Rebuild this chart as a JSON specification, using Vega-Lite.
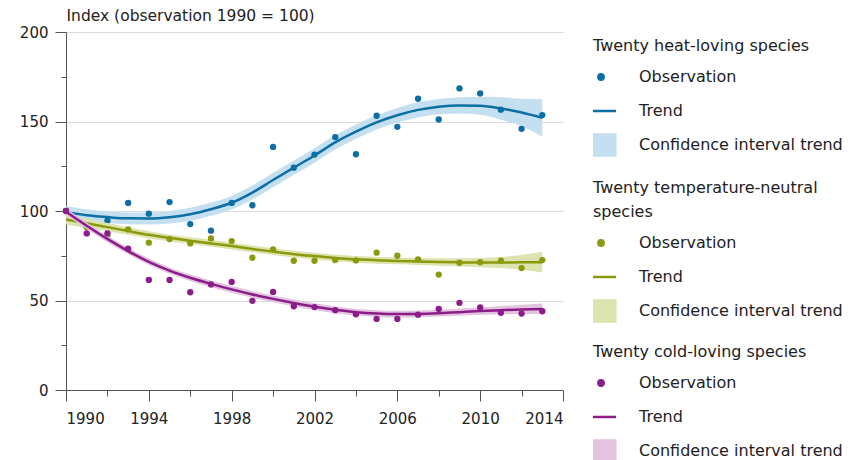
{
  "$schema": "https://vega.github.io/schema/vega-lite/v6.json",
  "width": 497,
  "height": 358,
  "autosize": {"type": "none"},
  "padding": {"left": 66, "top": 32, "right": 296, "bottom": 70},
  "background": "white",
  "config": {
    "view": {"stroke": null},
    "font": "DejaVu Sans",
    "axis": {"labelFont": "DejaVu Sans", "titleFont": "DejaVu Sans", "labelColor": "#222", "titleColor": "#222", "domainColor": "#555", "tickColor": "#555", "gridColor": "#dcdcdc"},
    "legend": {"labelFont": "DejaVu Sans", "titleFont": "DejaVu Sans", "labelFontSize": 16, "titleFontSize": 16, "titleFontWeight": "normal", "labelColor": "#222", "titleColor": "#222", "padding": 0, "symbolSize": 900, "clipHeight": 30, "labelOffset": 16, "rowPadding": 4, "titlePadding": 8, "titleLineHeight": 24, "labelLimit": 400, "titleLimit": 400}
  },
  "data": {"values": [
    {"g": "heat", "year": 1990, "obs": 100, "trend": 99.5, "lo": 96, "hi": 103},
    {"g": "heat", "year": 1991, "obs": 91, "trend": 97.6, "lo": 94.3, "hi": 100.9},
    {"g": "heat", "year": 1992, "obs": 94.6, "trend": 96.6, "lo": 93.3, "hi": 99.9},
    {"g": "heat", "year": 1993, "obs": 104.5, "trend": 95.9, "lo": 92.6, "hi": 99.2},
    {"g": "heat", "year": 1994, "obs": 98.5, "trend": 95.8, "lo": 92.4, "hi": 99.2},
    {"g": "heat", "year": 1995, "obs": 105, "trend": 96.5, "lo": 93, "hi": 100},
    {"g": "heat", "year": 1996, "obs": 92.7, "trend": 98.2, "lo": 94.6, "hi": 101.8},
    {"g": "heat", "year": 1997, "obs": 89, "trend": 101, "lo": 97.3, "hi": 104.7},
    {"g": "heat", "year": 1998, "obs": 104.5, "trend": 104.6, "lo": 100.8, "hi": 108.4},
    {"g": "heat", "year": 1999, "obs": 103.2, "trend": 110.3, "lo": 106.4, "hi": 114.2},
    {"g": "heat", "year": 2000, "obs": 135.8, "trend": 117.3, "lo": 113.3, "hi": 121.3},
    {"g": "heat", "year": 2001, "obs": 124.2, "trend": 124.2, "lo": 120.2, "hi": 128.2},
    {"g": "heat", "year": 2002, "obs": 131.5, "trend": 131, "lo": 127, "hi": 135},
    {"g": "heat", "year": 2003, "obs": 141.3, "trend": 138.3, "lo": 134.3, "hi": 142.3},
    {"g": "heat", "year": 2004, "obs": 131.7, "trend": 144.3, "lo": 140.3, "hi": 148.3},
    {"g": "heat", "year": 2005, "obs": 153.2, "trend": 149.5, "lo": 145.5, "hi": 153.5},
    {"g": "heat", "year": 2006, "obs": 147, "trend": 153.5, "lo": 149.4, "hi": 157.6},
    {"g": "heat", "year": 2007, "obs": 162.7, "trend": 156.5, "lo": 152.3, "hi": 160.7},
    {"g": "heat", "year": 2008, "obs": 151.1, "trend": 158.3, "lo": 154, "hi": 162.6},
    {"g": "heat", "year": 2009, "obs": 168.5, "trend": 159, "lo": 154.5, "hi": 163.5},
    {"g": "heat", "year": 2010, "obs": 165.7, "trend": 158.8, "lo": 153.8, "hi": 163.8},
    {"g": "heat", "year": 2011, "obs": 156.6, "trend": 157.3, "lo": 151, "hi": 163.6},
    {"g": "heat", "year": 2012, "obs": 145.9, "trend": 155, "lo": 147.3, "hi": 162.7},
    {"g": "heat", "year": 2013, "obs": 153.6, "trend": 152, "lo": 141.5, "hi": 162.5},
    {"g": "neutral", "year": 1990, "obs": 100, "trend": 95.3, "lo": 92.5, "hi": 98.1},
    {"g": "neutral", "year": 1991, "obs": 91, "trend": 93.1, "lo": 90.6, "hi": 95.6},
    {"g": "neutral", "year": 1992, "obs": 86, "trend": 91, "lo": 88.7, "hi": 93.3},
    {"g": "neutral", "year": 1993, "obs": 89.7, "trend": 88.8, "lo": 86.7, "hi": 90.9},
    {"g": "neutral", "year": 1994, "obs": 82.3, "trend": 86.7, "lo": 84.7, "hi": 88.7},
    {"g": "neutral", "year": 1995, "obs": 84.3, "trend": 85, "lo": 83.1, "hi": 86.9},
    {"g": "neutral", "year": 1996, "obs": 81.9, "trend": 83.4, "lo": 81.5, "hi": 85.3},
    {"g": "neutral", "year": 1997, "obs": 84.7, "trend": 81.9, "lo": 80, "hi": 83.8},
    {"g": "neutral", "year": 1998, "obs": 83.2, "trend": 80.4, "lo": 78.5, "hi": 82.3},
    {"g": "neutral", "year": 1999, "obs": 73.9, "trend": 78.8, "lo": 76.9, "hi": 80.7},
    {"g": "neutral", "year": 2000, "obs": 78.6, "trend": 77.3, "lo": 75.4, "hi": 79.2},
    {"g": "neutral", "year": 2001, "obs": 72.2, "trend": 75.9, "lo": 74, "hi": 77.8},
    {"g": "neutral", "year": 2002, "obs": 72.2, "trend": 74.8, "lo": 72.9, "hi": 76.7},
    {"g": "neutral", "year": 2003, "obs": 72.6, "trend": 73.8, "lo": 71.9, "hi": 75.7},
    {"g": "neutral", "year": 2004, "obs": 72.4, "trend": 73, "lo": 71.1, "hi": 74.9},
    {"g": "neutral", "year": 2005, "obs": 76.7, "trend": 72.5, "lo": 70.6, "hi": 74.4},
    {"g": "neutral", "year": 2006, "obs": 75, "trend": 72.1, "lo": 70.2, "hi": 74},
    {"g": "neutral", "year": 2007, "obs": 73, "trend": 71.8, "lo": 69.8, "hi": 73.8},
    {"g": "neutral", "year": 2008, "obs": 64.5, "trend": 71.5, "lo": 69.4, "hi": 73.6},
    {"g": "neutral", "year": 2009, "obs": 71.1, "trend": 71.3, "lo": 69, "hi": 73.6},
    {"g": "neutral", "year": 2010, "obs": 71.4, "trend": 71.2, "lo": 68.6, "hi": 73.8},
    {"g": "neutral", "year": 2011, "obs": 72.2, "trend": 71.2, "lo": 68.1, "hi": 74.3},
    {"g": "neutral", "year": 2012, "obs": 68.1, "trend": 71.3, "lo": 67.2, "hi": 75.4},
    {"g": "neutral", "year": 2013, "obs": 72.6, "trend": 71.4, "lo": 65.6, "hi": 77.2},
    {"g": "cold", "year": 1990, "obs": 100, "trend": 99.6, "lo": 97.8, "hi": 101.4},
    {"g": "cold", "year": 1991, "obs": 87.5, "trend": 91.8, "lo": 90, "hi": 93.6},
    {"g": "cold", "year": 1992, "obs": 87.5, "trend": 84.4, "lo": 82.6, "hi": 86.2},
    {"g": "cold", "year": 1993, "obs": 78.9, "trend": 77.6, "lo": 75.8, "hi": 79.4},
    {"g": "cold", "year": 1994, "obs": 61.5, "trend": 71.6, "lo": 69.8, "hi": 73.4},
    {"g": "cold", "year": 1995, "obs": 61.5, "trend": 66.7, "lo": 64.9, "hi": 68.5},
    {"g": "cold", "year": 1996, "obs": 54.6, "trend": 62.7, "lo": 60.9, "hi": 64.5},
    {"g": "cold", "year": 1997, "obs": 59, "trend": 59.3, "lo": 57.4, "hi": 61.2},
    {"g": "cold", "year": 1998, "obs": 60.4, "trend": 56.2, "lo": 54.3, "hi": 58.1},
    {"g": "cold", "year": 1999, "obs": 49.8, "trend": 53.4, "lo": 51.5, "hi": 55.3},
    {"g": "cold", "year": 2000, "obs": 54.8, "trend": 50.9, "lo": 49, "hi": 52.8},
    {"g": "cold", "year": 2001, "obs": 46.8, "trend": 48.6, "lo": 46.7, "hi": 50.5},
    {"g": "cold", "year": 2002, "obs": 46.3, "trend": 46.5, "lo": 44.6, "hi": 48.4},
    {"g": "cold", "year": 2003, "obs": 44.6, "trend": 44.8, "lo": 42.9, "hi": 46.7},
    {"g": "cold", "year": 2004, "obs": 42.3, "trend": 43.5, "lo": 41.6, "hi": 45.4},
    {"g": "cold", "year": 2005, "obs": 39.7, "trend": 42.7, "lo": 40.8, "hi": 44.6},
    {"g": "cold", "year": 2006, "obs": 39.7, "trend": 42.4, "lo": 40.5, "hi": 44.3},
    {"g": "cold", "year": 2007, "obs": 42.1, "trend": 42.5, "lo": 40.6, "hi": 44.4},
    {"g": "cold", "year": 2008, "obs": 45.3, "trend": 42.9, "lo": 41, "hi": 44.8},
    {"g": "cold", "year": 2009, "obs": 48.7, "trend": 43.5, "lo": 41.5, "hi": 45.5},
    {"g": "cold", "year": 2010, "obs": 46.1, "trend": 44.1, "lo": 42, "hi": 46.2},
    {"g": "cold", "year": 2011, "obs": 43.1, "trend": 44.6, "lo": 42.3, "hi": 46.9},
    {"g": "cold", "year": 2012, "obs": 42.7, "trend": 45, "lo": 42.4, "hi": 47.6},
    {"g": "cold", "year": 2013, "obs": 44, "trend": 45.3, "lo": 42.3, "hi": 48.3}
  ]},
  "resolve": {"scale": {"color": "independent"}, "axis": {"x": "independent", "y": "independent"}, "legend": {"color": "independent"}},
  "layer": [
    {
      "transform": [{"filter": "datum.g === 'heat'"}],
      "encoding": {
        "x": {"field": "year", "type": "quantitative", "scale": {"domain": [1990, 2014], "nice": false}, "axis": {"orient": "bottom", "values": [1990, 1994, 1998, 2002, 2006, 2010, 2014], "format": "d", "tickSize": 11, "labelPadding": 10, "labelFontSize": 15, "grid": false, "title": null}}
      },
      "layer": [
        {"mark": {"type": "area", "interpolate": "monotone"},
         "encoding": {
           "y": {"field": "lo", "type": "quantitative", "scale": {"domain": [0, 200], "nice": false}, "axis": {"orient": "left", "values": [0, 50, 100, 150, 200], "tickSize": 11, "labelPadding": 7, "labelFontSize": 15, "grid": true, "title": "Index (observation 1990 = 100)", "titleAngle": 0, "titleX": 0, "titleY": -12, "titleAlign": "left", "titleBaseline": "alphabetic", "titleFontSize": 15.5, "titleFontWeight": "normal"}},
           "y2": {"field": "hi"},
           "color": {"datum": "Confidence interval trend", "type": "nominal", "scale": {"domain": ["Observation", "Trend", "Confidence interval trend"], "range": ["#0b6ea4", "#0b6ea4", "#c4dff0"]},
             "legend": {"title": "Twenty heat-loving species", "orient": "none", "legendX": 527, "legendY": 6, "symbolSize": 900, "clipHeight": 30, "labelOffset": 16,
               "encode": {"labels": {"update": {"dx": {"value": 14}}}, "symbols": {"update": {
                 "shape": {"signal": "datum.value === 'Observation' ? 'M0,-0.22A0.22,0.22 0 1,1 0,0.22A0.22,0.22 0 1,1 0,-0.22Z' : datum.value === 'Trend' ? 'M-1,0H1' : 'M-1,-0.75H1V0.75H-1Z'"},
                 "size": {"value": 900},
                 "fill": {"signal": "datum.value === 'Observation' ? '#0b6ea4' : datum.value === 'Trend' ? 'transparent' : '#c4dff0'"},
                 "stroke": {"signal": "datum.value === 'Observation' ? 'transparent' : datum.value === 'Trend' ? '#0b6ea4' : '#7a7a7a'"},
                 "strokeWidth": {"signal": "datum.value === 'Trend' ? 2.5 : 1.2"},
                 "opacity": {"value": 1}}}}}}
         }},
        {"mark": {"type": "line", "interpolate": "monotone", "strokeWidth": 2.5},
         "encoding": {
           "y": {"field": "trend", "type": "quantitative", "axis": {"orient": "left", "values": [0, 50, 100, 150, 200], "tickSize": 11, "labelPadding": 7, "labelFontSize": 15, "grid": true, "title": "Index (observation 1990 = 100)", "titleAngle": 0, "titleX": 0, "titleY": -12, "titleAlign": "left", "titleBaseline": "alphabetic", "titleFontSize": 15.5, "titleFontWeight": "normal"}},
           "color": {"datum": "Trend", "type": "nominal",
             "legend": {"title": "Twenty heat-loving species", "orient": "none", "legendX": 527, "legendY": 6, "symbolSize": 900, "clipHeight": 30, "labelOffset": 16,
               "encode": {"labels": {"update": {"dx": {"value": 14}}}, "symbols": {"update": {
                 "shape": {"signal": "datum.value === 'Observation' ? 'M0,-0.22A0.22,0.22 0 1,1 0,0.22A0.22,0.22 0 1,1 0,-0.22Z' : datum.value === 'Trend' ? 'M-1,0H1' : 'M-1,-0.75H1V0.75H-1Z'"},
                 "size": {"value": 900},
                 "fill": {"signal": "datum.value === 'Observation' ? '#0b6ea4' : datum.value === 'Trend' ? 'transparent' : '#c4dff0'"},
                 "stroke": {"signal": "datum.value === 'Observation' ? 'transparent' : datum.value === 'Trend' ? '#0b6ea4' : '#7a7a7a'"},
                 "strokeWidth": {"signal": "datum.value === 'Trend' ? 2.5 : 1.2"},
                 "opacity": {"value": 1}}}}}}
         }},
        {"mark": {"type": "circle", "size": 40, "opacity": 1},
         "encoding": {
           "y": {"field": "obs", "type": "quantitative", "axis": {"orient": "left", "values": [0, 50, 100, 150, 200], "tickSize": 11, "labelPadding": 7, "labelFontSize": 15, "grid": true, "title": "Index (observation 1990 = 100)", "titleAngle": 0, "titleX": 0, "titleY": -12, "titleAlign": "left", "titleBaseline": "alphabetic", "titleFontSize": 15.5, "titleFontWeight": "normal"}},
           "color": {"datum": "Observation", "type": "nominal",
             "legend": {"title": "Twenty heat-loving species", "orient": "none", "legendX": 527, "legendY": 6, "symbolSize": 900, "clipHeight": 30, "labelOffset": 16,
               "encode": {"labels": {"update": {"dx": {"value": 14}}}, "symbols": {"update": {
                 "shape": {"signal": "datum.value === 'Observation' ? 'M0,-0.22A0.22,0.22 0 1,1 0,0.22A0.22,0.22 0 1,1 0,-0.22Z' : datum.value === 'Trend' ? 'M-1,0H1' : 'M-1,-0.75H1V0.75H-1Z'"},
                 "size": {"value": 900},
                 "fill": {"signal": "datum.value === 'Observation' ? '#0b6ea4' : datum.value === 'Trend' ? 'transparent' : '#c4dff0'"},
                 "stroke": {"signal": "datum.value === 'Observation' ? 'transparent' : datum.value === 'Trend' ? '#0b6ea4' : '#7a7a7a'"},
                 "strokeWidth": {"signal": "datum.value === 'Trend' ? 2.5 : 1.2"},
                 "opacity": {"value": 1}}}}}}
         }}
      ]
    },
    {
      "transform": [{"filter": "datum.g === 'neutral'"}],
      "encoding": {
        "x": {"field": "year", "type": "quantitative", "axis": {"orient": "bottom", "values": [1992, 1996, 2000, 2004, 2008, 2012], "tickSize": 6, "labels": false, "domain": false, "grid": false, "title": null}}
      },
      "layer": [
        {"mark": {"type": "area", "interpolate": "monotone"},
         "encoding": {
           "y": {"field": "lo", "type": "quantitative", "axis": {"orient": "left", "values": [25, 75, 125, 175], "tickSize": 5, "labels": false, "domain": false, "grid": false, "title": null}},
           "y2": {"field": "hi"},
           "color": {"datum": "Confidence interval trend", "type": "nominal", "scale": {"domain": ["Observation", "Trend", "Confidence interval trend"], "range": ["#8a9a0c", "#8a9a0c", "#dde3ae"]},
             "legend": {"title": ["Twenty temperature-neutral", "species"], "orient": "none", "legendX": 527, "legendY": 148, "symbolSize": 900, "clipHeight": 30, "labelOffset": 16,
               "encode": {"labels": {"update": {"dx": {"value": 14}}}, "symbols": {"update": {
                 "shape": {"signal": "datum.value === 'Observation' ? 'M0,-0.22A0.22,0.22 0 1,1 0,0.22A0.22,0.22 0 1,1 0,-0.22Z' : datum.value === 'Trend' ? 'M-1,0H1' : 'M-1,-0.75H1V0.75H-1Z'"},
                 "size": {"value": 900},
                 "fill": {"signal": "datum.value === 'Observation' ? '#8a9a0c' : datum.value === 'Trend' ? 'transparent' : '#dde3ae'"},
                 "stroke": {"signal": "datum.value === 'Observation' ? 'transparent' : datum.value === 'Trend' ? '#8a9a0c' : '#7a7a7a'"},
                 "strokeWidth": {"signal": "datum.value === 'Trend' ? 2.5 : 1.2"},
                 "opacity": {"value": 1}}}}}}
         }},
        {"mark": {"type": "line", "interpolate": "monotone", "strokeWidth": 2.5},
         "encoding": {
           "y": {"field": "trend", "type": "quantitative", "axis": {"orient": "left", "values": [25, 75, 125, 175], "tickSize": 5, "labels": false, "domain": false, "grid": false, "title": null}},
           "color": {"datum": "Trend", "type": "nominal",
             "legend": {"title": ["Twenty temperature-neutral", "species"], "orient": "none", "legendX": 527, "legendY": 148, "symbolSize": 900, "clipHeight": 30, "labelOffset": 16,
               "encode": {"labels": {"update": {"dx": {"value": 14}}}, "symbols": {"update": {
                 "shape": {"signal": "datum.value === 'Observation' ? 'M0,-0.22A0.22,0.22 0 1,1 0,0.22A0.22,0.22 0 1,1 0,-0.22Z' : datum.value === 'Trend' ? 'M-1,0H1' : 'M-1,-0.75H1V0.75H-1Z'"},
                 "size": {"value": 900},
                 "fill": {"signal": "datum.value === 'Observation' ? '#8a9a0c' : datum.value === 'Trend' ? 'transparent' : '#dde3ae'"},
                 "stroke": {"signal": "datum.value === 'Observation' ? 'transparent' : datum.value === 'Trend' ? '#8a9a0c' : '#7a7a7a'"},
                 "strokeWidth": {"signal": "datum.value === 'Trend' ? 2.5 : 1.2"},
                 "opacity": {"value": 1}}}}}}
         }},
        {"mark": {"type": "circle", "size": 40, "opacity": 1},
         "encoding": {
           "y": {"field": "obs", "type": "quantitative", "axis": {"orient": "left", "values": [25, 75, 125, 175], "tickSize": 5, "labels": false, "domain": false, "grid": false, "title": null}},
           "color": {"datum": "Observation", "type": "nominal",
             "legend": {"title": ["Twenty temperature-neutral", "species"], "orient": "none", "legendX": 527, "legendY": 148, "symbolSize": 900, "clipHeight": 30, "labelOffset": 16,
               "encode": {"labels": {"update": {"dx": {"value": 14}}}, "symbols": {"update": {
                 "shape": {"signal": "datum.value === 'Observation' ? 'M0,-0.22A0.22,0.22 0 1,1 0,0.22A0.22,0.22 0 1,1 0,-0.22Z' : datum.value === 'Trend' ? 'M-1,0H1' : 'M-1,-0.75H1V0.75H-1Z'"},
                 "size": {"value": 900},
                 "fill": {"signal": "datum.value === 'Observation' ? '#8a9a0c' : datum.value === 'Trend' ? 'transparent' : '#dde3ae'"},
                 "stroke": {"signal": "datum.value === 'Observation' ? 'transparent' : datum.value === 'Trend' ? '#8a9a0c' : '#7a7a7a'"},
                 "strokeWidth": {"signal": "datum.value === 'Trend' ? 2.5 : 1.2"},
                 "opacity": {"value": 1}}}}}}
         }}
      ]
    },
    {
      "transform": [{"filter": "datum.g === 'cold'"}],
      "encoding": {
        "x": {"field": "year", "type": "quantitative", "axis": null}
      },
      "layer": [
        {"mark": {"type": "area", "interpolate": "monotone"},
         "encoding": {
           "y": {"field": "lo", "type": "quantitative", "axis": null},
           "y2": {"field": "hi"},
           "color": {"datum": "Confidence interval trend", "type": "nominal", "scale": {"domain": ["Observation", "Trend", "Confidence interval trend"], "range": ["#8b1c89", "#8b1c89", "#e2c4df"]},
             "legend": {"title": "Twenty cold-loving species", "orient": "none", "legendX": 527, "legendY": 312, "symbolSize": 900, "clipHeight": 30, "labelOffset": 16,
               "encode": {"labels": {"update": {"dx": {"value": 14}}}, "symbols": {"update": {
                 "shape": {"signal": "datum.value === 'Observation' ? 'M0,-0.22A0.22,0.22 0 1,1 0,0.22A0.22,0.22 0 1,1 0,-0.22Z' : datum.value === 'Trend' ? 'M-1,0H1' : 'M-1,-0.75H1V0.75H-1Z'"},
                 "size": {"value": 900},
                 "fill": {"signal": "datum.value === 'Observation' ? '#8b1c89' : datum.value === 'Trend' ? 'transparent' : '#e2c4df'"},
                 "stroke": {"signal": "datum.value === 'Observation' ? 'transparent' : datum.value === 'Trend' ? '#8b1c89' : '#7a7a7a'"},
                 "strokeWidth": {"signal": "datum.value === 'Trend' ? 2.5 : 1.2"},
                 "opacity": {"value": 1}}}}}}
         }},
        {"mark": {"type": "line", "interpolate": "monotone", "strokeWidth": 2.5},
         "encoding": {
           "y": {"field": "trend", "type": "quantitative", "axis": null},
           "color": {"datum": "Trend", "type": "nominal",
             "legend": {"title": "Twenty cold-loving species", "orient": "none", "legendX": 527, "legendY": 312, "symbolSize": 900, "clipHeight": 30, "labelOffset": 16,
               "encode": {"labels": {"update": {"dx": {"value": 14}}}, "symbols": {"update": {
                 "shape": {"signal": "datum.value === 'Observation' ? 'M0,-0.22A0.22,0.22 0 1,1 0,0.22A0.22,0.22 0 1,1 0,-0.22Z' : datum.value === 'Trend' ? 'M-1,0H1' : 'M-1,-0.75H1V0.75H-1Z'"},
                 "size": {"value": 900},
                 "fill": {"signal": "datum.value === 'Observation' ? '#8b1c89' : datum.value === 'Trend' ? 'transparent' : '#e2c4df'"},
                 "stroke": {"signal": "datum.value === 'Observation' ? 'transparent' : datum.value === 'Trend' ? '#8b1c89' : '#7a7a7a'"},
                 "strokeWidth": {"signal": "datum.value === 'Trend' ? 2.5 : 1.2"},
                 "opacity": {"value": 1}}}}}}
         }},
        {"mark": {"type": "circle", "size": 40, "opacity": 1},
         "encoding": {
           "y": {"field": "obs", "type": "quantitative", "axis": null},
           "color": {"datum": "Observation", "type": "nominal",
             "legend": {"title": "Twenty cold-loving species", "orient": "none", "legendX": 527, "legendY": 312, "symbolSize": 900, "clipHeight": 30, "labelOffset": 16,
               "encode": {"labels": {"update": {"dx": {"value": 14}}}, "symbols": {"update": {
                 "shape": {"signal": "datum.value === 'Observation' ? 'M0,-0.22A0.22,0.22 0 1,1 0,0.22A0.22,0.22 0 1,1 0,-0.22Z' : datum.value === 'Trend' ? 'M-1,0H1' : 'M-1,-0.75H1V0.75H-1Z'"},
                 "size": {"value": 900},
                 "fill": {"signal": "datum.value === 'Observation' ? '#8b1c89' : datum.value === 'Trend' ? 'transparent' : '#e2c4df'"},
                 "stroke": {"signal": "datum.value === 'Observation' ? 'transparent' : datum.value === 'Trend' ? '#8b1c89' : '#7a7a7a'"},
                 "strokeWidth": {"signal": "datum.value === 'Trend' ? 2.5 : 1.2"},
                 "opacity": {"value": 1}}}}}}
         }}
      ]
    }
  ]
}
